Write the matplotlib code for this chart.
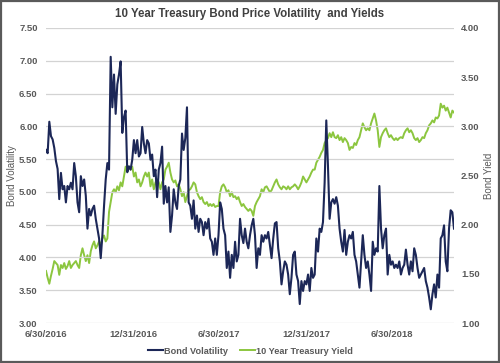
import matplotlib
matplotlib.use("Agg")
import matplotlib.pyplot as plt
import matplotlib.dates as mdates
from matplotlib.patches import Rectangle
import pandas as pd

plt.rcParams['font.family'] = ['Liberation Sans', 'DejaVu Sans']

title = "10 Year Treasury Bond Price Volatility  and Yields"
start_date = "2016-06-30"
end_date = "2018-11-08"
tick_dates = ["2016-06-30", "2016-12-31", "2017-06-30", "2017-12-31", "2018-06-30"]
vol_ticks = [3.0, 3.5, 4.0, 4.5, 5.0, 5.5, 6.0, 6.5, 7.0, 7.5]
yield_ticks = [1.0, 1.5, 2.0, 2.5, 3.0, 3.5, 4.0]

volatility = [
    5.64, 5.59, 6.07, 5.85, 5.80, 5.67, 5.47, 5.35, 4.89, 5.29, 5.04, 5.09, 4.84, 5.09, 5.04, 5.14,
    5.04, 5.44, 5.24, 4.84, 4.69, 5.24, 5.09, 5.19, 4.94, 4.44, 4.74, 4.64, 4.74, 4.79, 4.59, 4.44,
    4.29, 3.99, 4.34, 4.79, 5.19, 5.44, 5.34, 7.06, 6.29, 6.79, 6.19, 6.64, 6.79, 6.99, 5.90, 6.14,
    6.24, 5.30, 5.39, 5.34, 5.49, 5.79, 5.59, 5.79, 5.54, 5.59, 5.99, 5.74, 5.59, 5.79, 5.74,
    5.49, 5.57, 5.24, 5.34, 4.92, 5.34, 5.44, 5.69, 4.82, 5.09, 4.84, 5.07, 4.39, 4.64, 5.04, 4.84,
    4.74, 5.09, 5.19, 5.89, 5.64, 5.82, 6.29, 4.84, 4.79, 4.59, 4.87, 4.44, 4.64, 4.39, 4.59, 4.54,
    4.34, 4.54, 4.44, 4.59, 4.29, 4.24, 4.04, 4.29, 4.04, 4.34, 4.84, 4.74, 4.44, 4.34, 3.84, 4.09,
    3.69, 4.04, 3.84, 4.24, 3.94, 4.04, 4.59, 4.34, 4.22, 4.44, 4.24, 4.14, 4.34,
    4.49, 4.59, 4.34, 3.84, 4.14, 4.04, 4.34, 4.24, 4.34, 4.29, 4.39, 4.19, 3.99, 4.29, 4.52, 4.54,
    4.14, 3.94, 3.59, 3.79, 3.94, 3.89, 3.74, 3.44, 3.69, 4.04, 4.09, 3.74, 3.64, 3.29, 3.64, 3.49,
    3.64, 3.59, 3.74, 3.49, 3.84, 3.69, 3.74, 4.29, 4.09, 4.44, 4.39, 4.54, 5.14, 6.09, 5.40, 4.59,
    4.84, 4.89, 4.82, 4.92, 4.79, 4.44, 4.24, 4.09, 4.42, 4.04, 4.24, 4.34, 4.29,
    4.39, 4.04, 3.94, 3.74, 3.54, 3.94, 4.34, 4.04, 3.84, 3.94, 3.74, 3.49, 4.24, 4.04, 4.14, 4.09,
    5.09, 4.44, 4.14, 4.34, 4.44, 3.74, 4.04, 3.89, 3.94, 3.84, 3.89, 3.84, 3.94, 3.74, 3.84, 3.89,
    4.12, 3.89, 3.74, 3.94, 3.79, 4.14, 4.04, 3.84, 3.69, 3.74, 3.79, 3.84, 3.64, 3.54, 3.39, 3.21,
    3.44, 3.59, 3.39, 3.74, 3.54, 4.29, 4.34, 4.49, 3.94, 3.79, 4.44, 4.72, 4.69, 4.44,
]

treasury_yield = [
    1.53, 1.46, 1.40, 1.48, 1.55, 1.63, 1.61, 1.59, 1.49, 1.59, 1.56, 1.61, 1.55, 1.58, 1.63, 1.56,
    1.59, 1.61, 1.63, 1.59, 1.56, 1.69, 1.76, 1.69, 1.63, 1.69, 1.61, 1.73, 1.79, 1.83, 1.76, 1.79,
    1.83, 1.79, 1.86, 1.89, 1.83, 1.86, 2.13, 2.23, 2.33, 2.36, 2.33, 2.39, 2.35, 2.43, 2.39, 2.49,
    2.59, 2.56, 2.59, 2.56, 2.59, 2.49, 2.53, 2.43, 2.46, 2.39, 2.43, 2.49, 2.53, 2.49, 2.53,
    2.39, 2.46, 2.36, 2.43, 2.46, 2.43, 2.36, 2.43, 2.46, 2.56, 2.59, 2.63, 2.53, 2.46, 2.43, 2.45,
    2.39, 2.41, 2.36, 2.29, 2.33, 2.23, 2.29, 2.35, 2.36, 2.39, 2.43, 2.41, 2.33, 2.29, 2.26, 2.28,
    2.23, 2.21, 2.23, 2.19, 2.21, 2.19, 2.21, 2.18, 2.19, 2.19, 2.33, 2.39, 2.41, 2.38, 2.33, 2.35,
    2.29, 2.33, 2.28, 2.29, 2.26, 2.28, 2.23, 2.19, 2.21, 2.18, 2.16, 2.14, 2.16,
    2.14, 2.09, 2.19, 2.23, 2.26, 2.29, 2.36, 2.33, 2.38, 2.39, 2.36, 2.33, 2.35, 2.39, 2.43, 2.46,
    2.41, 2.38, 2.36, 2.39, 2.38, 2.36, 2.39, 2.36, 2.38, 2.39, 2.41, 2.39, 2.36, 2.39, 2.43, 2.49,
    2.46, 2.43, 2.46, 2.49, 2.53, 2.56, 2.56, 2.63, 2.66, 2.69, 2.73, 2.76, 2.83, 2.86, 2.88, 2.93,
    2.89, 2.94, 2.89, 2.88, 2.91, 2.86, 2.89, 2.84, 2.88, 2.86, 2.83, 2.76, 2.79,
    2.78, 2.83, 2.81, 2.86, 2.89, 2.96, 3.03, 2.99, 2.96, 2.98, 2.96, 3.03, 3.08, 3.13, 3.06, 2.96,
    2.79, 2.89, 2.93, 2.96, 2.98, 2.93, 2.89, 2.91, 2.88, 2.86, 2.88, 2.86, 2.88, 2.89, 2.88, 2.93,
    2.96, 2.98, 2.94, 2.96, 2.93, 2.88, 2.86, 2.88, 2.84, 2.86, 2.89, 2.88, 2.93, 2.96, 3.01, 3.03,
    3.06, 3.04, 3.09, 3.08, 3.11, 3.23, 3.19, 3.21, 3.16, 3.19, 3.14, 3.09, 3.16, 3.14,
]

dates = pd.date_range(start_date, end_date, periods=len(volatility))

navy = "#1c2757"
green = "#8cc63f"
text_gray = "#595959"

fig = plt.figure(figsize=(5.0, 3.63), dpi=100)
fig.patches.append(Rectangle((0.002, 0.003), 0.996, 0.994, transform=fig.transFigure,
                             fill=False, edgecolor="#5a5a5a", linewidth=1.6, zorder=10))
ax = fig.add_axes([0.092, 0.110, 0.816, 0.813])
ax2 = ax.twinx()
ax2.patch.set_facecolor("#f2f2f2")
ax.patch.set_visible(False)
ax.set_zorder(2)
ax2.set_zorder(1)

ax.plot(dates, volatility, color=navy, linewidth=1.5, label="Bond Volatility", zorder=3)
ax2.plot(dates, treasury_yield, color=green, linewidth=1.4, label="10 Year Treasury Yield", zorder=2)

ax.set_ylim(3.0, 7.5)
ax2.set_ylim(1.0, 4.0)
ax.set_xlim(pd.Timestamp(start_date), pd.Timestamp(end_date))
ax.set_yticks(vol_ticks)
ax.set_yticklabels([f"{v:.2f}" for v in vol_ticks])
ax2.set_yticks(yield_ticks)
ax2.set_yticklabels([f"{v:.2f}" for v in yield_ticks])
ax.set_xticks([pd.Timestamp(d) for d in tick_dates])
ax.xaxis.set_major_formatter(mdates.DateFormatter("%-m/%d/%Y"))

ax.grid(axis="y", color="#d3d3d3", linewidth=0.9)
ax.set_axisbelow(True)
for a in (ax, ax2):
    for s in a.spines.values():
        s.set_visible(False)
    a.tick_params(length=0, colors=text_gray, labelsize=6.8)
    for lbl in a.get_xticklabels() + a.get_yticklabels():
        lbl.set_fontweight("bold")
ax.tick_params(axis="y", pad=6)
ax2.tick_params(axis="y", pad=5)
ax.tick_params(axis="x", pad=5)

ax.set_ylabel("Bond Volatility", color=text_gray, fontsize=7)
ax.yaxis.set_label_coords(-0.070, 0.5)
ax2.set_ylabel("Bond Yield", color=text_gray, fontsize=7, rotation=90)
ax2.yaxis.set_label_coords(1.073, 0.5)

fig.text(0.5, 0.962, title, ha="center", va="center", fontsize=8.3,
         fontweight="bold", color="#404040")

h1, l1 = ax.get_legend_handles_labels()
h2, l2 = ax2.get_legend_handles_labels()
leg = fig.legend(h1 + h2, l1 + l2, loc="center", bbox_to_anchor=(0.5, 0.033), ncol=2,
                 frameon=False, fontsize=6.6, handlelength=1.65, handletextpad=0.1,
                 columnspacing=1.3)
for t in leg.get_texts():
    t.set_color(text_gray)
    t.set_fontweight("bold")

fig.savefig("out.png", dpi=100)
